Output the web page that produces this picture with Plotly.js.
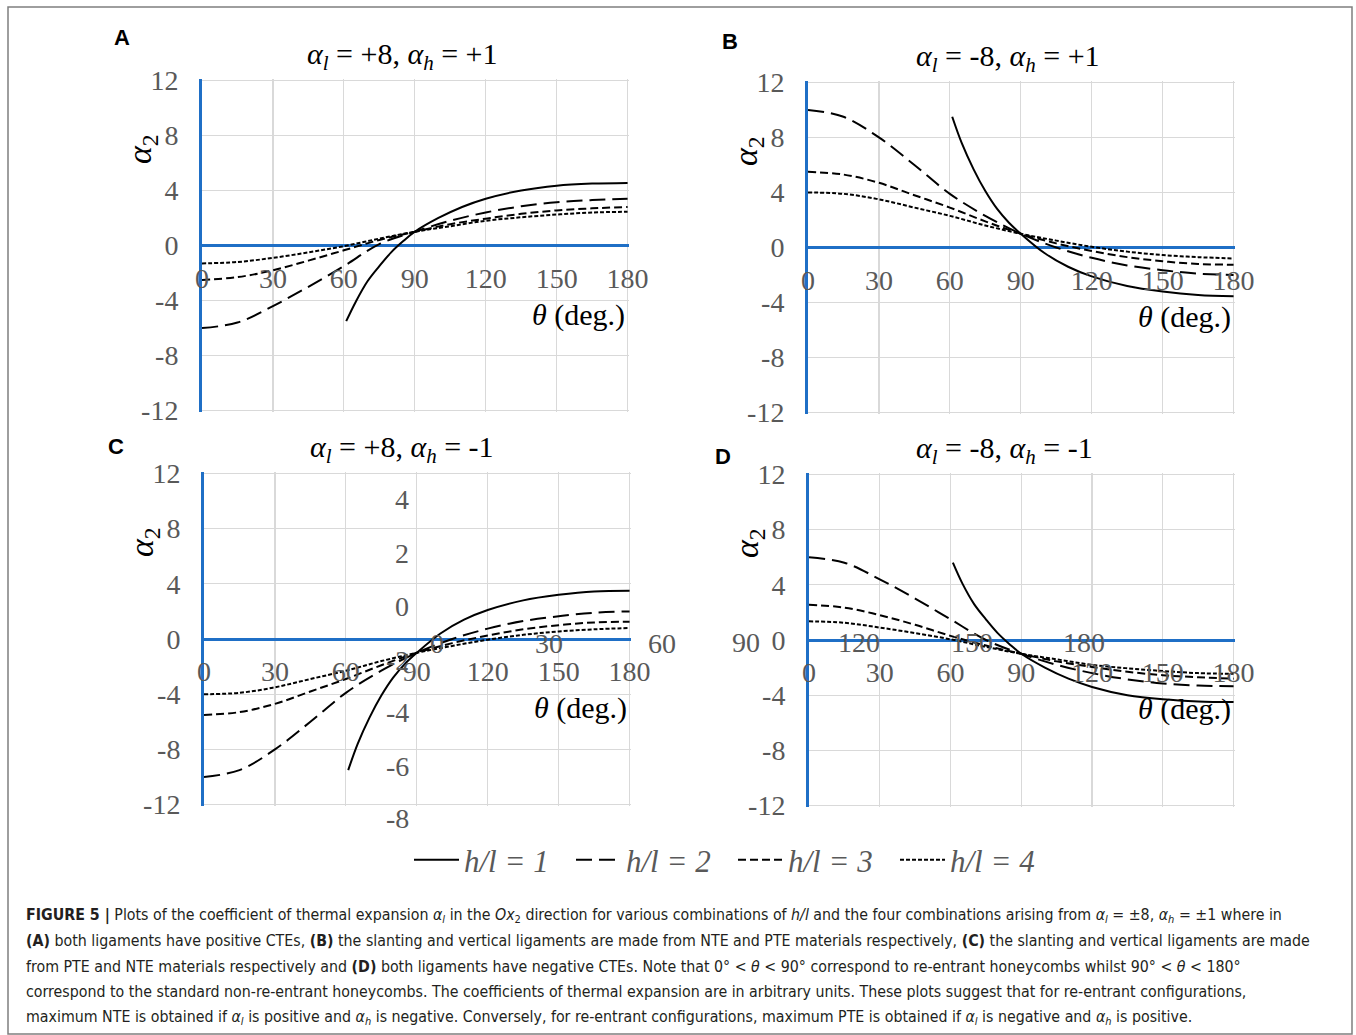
<!DOCTYPE html>
<html>
<head>
<meta charset="utf-8">
<script src="https://cdn.plot.ly/plotly-3.0.1.min.js"></script>
<style>html,body{margin:0;padding:0;background:#fff;}#chart{width:1356px;height:1035px;}</style>
</head>
<body>
<div id="chart"></div>
<script>
// ---------- data ----------
const thetaGrid = [0, 15, 30, 45, 60, 75, 90, 105, 120, 135, 150, 165, 180];
const thetaH1 = [61, 65, 70, 75, 80, 85, 90, 100, 110, 120, 135, 150, 165, 180];

// Panel A: alpha_l = +8, alpha_h = +1
const A_h1 = [-5.5, -4.1, -2.6, -1.5, -0.5, 0.3, 1.0, 2.0, 2.8, 3.4, 4.0, 4.35, 4.5, 4.55];
const A_h2 = [-6.0, -5.6, -4.4, -3.0, -1.5, 0.1, 1.0, 1.8, 2.4, 2.85, 3.15, 3.3, 3.4];
const A_h3 = [-2.5, -2.3, -1.8, -1.1, -0.35, 0.4, 1.0, 1.55, 1.95, 2.3, 2.55, 2.7, 2.8];
const A_h4 = [-1.3, -1.2, -0.9, -0.5, -0.05, 0.5, 1.0, 1.4, 1.8, 2.05, 2.25, 2.4, 2.45];
// Panel B: alpha_l = -8, alpha_h = +1
const B_h1 = [9.5, 7.6, 5.7, 4.1, 2.8, 1.8, 1.0, -0.4, -1.4, -2.1, -2.8, -3.2, -3.45, -3.55];
const B_h2 = [10.0, 9.5, 8.0, 6.0, 3.9, 2.3, 1.0, 0.0, -0.75, -1.3, -1.65, -1.9, -2.0];
const B_h3 = [5.5, 5.3, 4.7, 3.8, 2.9, 1.9, 1.0, 0.3, -0.25, -0.7, -1.0, -1.2, -1.25];
const B_h4 = [4.0, 3.9, 3.5, 2.9, 2.3, 1.6, 1.0, 0.5, 0.05, -0.3, -0.55, -0.7, -0.8];
// Panel C: alpha_l = +8, alpha_h = -1
const C_h1 = [-9.5, -7.6, -5.7, -4.1, -2.8, -1.8, -1.0, 0.4, 1.4, 2.1, 2.8, 3.2, 3.45, 3.5];
const C_h2 = [-10.0, -9.5, -8.0, -6.0, -3.9, -2.3, -1.0, 0.0, 0.75, 1.3, 1.65, 1.9, 2.0];
const C_h3 = [-5.5, -5.3, -4.7, -3.8, -2.9, -1.9, -1.0, -0.3, 0.25, 0.7, 1.0, 1.2, 1.25];
const C_h4 = [-4.0, -3.9, -3.5, -2.9, -2.3, -1.6, -1.0, -0.5, -0.05, 0.3, 0.55, 0.7, 0.8];
// Panel D: alpha_l = -8, alpha_h = -1
const D_h1 = [5.6, 4.1, 2.6, 1.5, 0.5, -0.3, -1.0, -2.0, -2.8, -3.4, -4.0, -4.3, -4.45, -4.5];
const D_h2 = [6.0, 5.6, 4.4, 3.0, 1.5, 0.0, -1.0, -1.8, -2.4, -2.85, -3.15, -3.3, -3.35];
const D_h3 = [2.55, 2.35, 1.8, 1.1, 0.3, -0.4, -1.0, -1.55, -1.95, -2.3, -2.55, -2.7, -2.8];
const D_h4 = [1.35, 1.25, 0.9, 0.5, 0.05, -0.5, -1.0, -1.4, -1.8, -2.05, -2.25, -2.4, -2.45];

const seriesNames = ['h/l = 1', 'h/l = 2', 'h/l = 3', 'h/l = 4'];
const xTickVals = [0, 30, 60, 90, 120, 150, 180];
const xTickText = ['0', '30', '60', '90', '120', '150', '180'];
const yTickVals = [-12, -8, -4, 0, 4, 8, 12];
const yTickText = ['-12', '-8', '-4', '0', '4', '8', '12'];

const panelLetters = ['A', 'B', 'C', 'D'];
const panelTitles = [
  '<i>α</i><sub><i>l</i></sub> = +8, <i>α</i><sub><i>h</i></sub> = +1',
  '<i>α</i><sub><i>l</i></sub> = -8, <i>α</i><sub><i>h</i></sub> = +1',
  '<i>α</i><sub><i>l</i></sub> = +8, <i>α</i><sub><i>h</i></sub> = -1',
  '<i>α</i><sub><i>l</i></sub> = -8, <i>α</i><sub><i>h</i></sub> = -1'
];
// stray labels visible in the reference (panels C and D)
const strayC_yText = ['4', '2', '0', '-2', '-4', '-6', '-8'];
const strayC_xText = ['0', '30', '60'];
const strayD_xText = ['90', '120', '150', '180'];

const captionLines = [
  '<b>FIGURE 5 |</b> Plots of the coefficient of thermal expansion <i>α<sub>l</sub></i> in the <i>Ox</i><sub>2</sub> direction for various combinations of <i>h/l</i> and the four combinations arising from <i>α<sub>l</sub></i> = ±8, <i>α<sub>h</sub></i> = ±1 where in',
  '<b>(A)</b> both ligaments have positive CTEs, <b>(B)</b> the slanting and vertical ligaments are made from NTE and PTE materials respectively, <b>(C)</b> the slanting and vertical ligaments are made',
  'from PTE and NTE materials respectively and <b>(D)</b> both ligaments have negative CTEs. Note that 0° &lt; <i>θ</i> &lt; 90° correspond to re-entrant honeycombs whilst 90° &lt; <i>θ</i> &lt; 180°',
  'correspond to the standard non-re-entrant honeycombs. The coefficients of thermal expansion are in arbitrary units. These plots suggest that for re-entrant configurations,',
  'maximum NTE is obtained if <i>α<sub>l</sub></i> is positive and <i>α<sub>h</sub></i> is negative. Conversely, for re-entrant configurations, maximum PTE is obtained if <i>α<sub>l</sub></i> is negative and <i>α<sub>h</sub></i> is positive.'
];

// ---------- layout helpers ----------
const W = 1356, H = 1035;
const px = x => x / W;
const py = y => 1 - y / H;
const BLUE = '#1f6fc6';
const GRID = '#d9d9d9';
const TICKGRAY = '#595959';
const SERIF = 'Liberation Serif, Times New Roman, serif';
const SANS = 'Liberation Sans, Arial, sans-serif';
const NARROW = 'Liberation Sans Narrow, DejaVu Sans Condensed, Arial Narrow, sans-serif';

const panels = [
  {id: '',  xd: [202, 629], yd: [79, 412], tx: 402, data: [A_h1, A_h2, A_h3, A_h4]},
  {id: '2', xd: [808, 1235], yd: [81, 414], tx: 1008, data: [B_h1, B_h2, B_h3, B_h4]},
  {id: '3', xd: [204, 631], yd: [472, 806], tx: 402, data: [C_h1, C_h2, C_h3, C_h4]},
  {id: '4', xd: [809, 1235], yd: [473, 807], tx: 1004, data: [D_h1, D_h2, D_h3, D_h4]}
];
const dashes = ['solid', '16px,7px', '8px,4px', '4px,2px'];

const traces = [];
const layout = {
  width: W, height: H,
  margin: {l: 0, r: 0, t: 0, b: 0},
  paper_bgcolor: '#fff', plot_bgcolor: 'rgba(0,0,0,0)',
  showlegend: true,
  legend: {
    orientation: 'h', x: px(409), xanchor: 'left', y: py(860), yanchor: 'middle',
    font: {family: SERIF, size: 31, color: TICKGRAY},
    entrywidth: 102, entrywidthmode: 'pixels', itemwidth: 45,
    bgcolor: 'rgba(0,0,0,0)', tracegroupgap: 0
  },
  annotations: [],
  shapes: [{type: 'rect', xref: 'paper', yref: 'paper', x0: px(8), x1: px(1352), y0: py(1034), y1: py(7),
            line: {color: '#7f7f7f', width: 1.5}, layer: 'below'}]
};

panels.forEach((p, pi) => {
  const yDom = [py(p.yd[1]), py(p.yd[0])];
  layout['xaxis' + p.id] = {
    domain: [px(p.xd[0]), px(p.xd[1])], range: [0, 180.6],
    tickmode: 'array', tickvals: xTickVals, ticktext: xTickText,
    anchor: 'free', position: (yDom[0] + yDom[1]) / 2,
    showgrid: true, gridcolor: GRID, gridwidth: 1.2,
    zeroline: false, showline: false, ticks: '', ticklabelstandoff: 13,
    tickfont: {family: SERIF, size: 28, color: TICKGRAY}
  };
  layout['yaxis' + p.id] = {
    domain: yDom, range: [-12.1, 12.1],
    tickmode: 'array', tickvals: yTickVals, ticktext: yTickText,
    anchor: 'x' + p.id,
    showgrid: true, gridcolor: GRID, gridwidth: 1.2,
    zeroline: true, zerolinecolor: BLUE, zerolinewidth: 3,
    showline: true, linecolor: BLUE, linewidth: 3,
    ticks: '', ticklabelstandoff: 15,
    tickfont: {family: SERIF, size: 28, color: TICKGRAY}
  };
  p.data.forEach((vals, si) => {
    traces.push({
      type: 'scatter', mode: 'lines',
      x: si === 0 ? thetaH1 : thetaGrid, y: vals,
      xaxis: 'x' + p.id, yaxis: 'y' + p.id,
      name: '<i>' + seriesNames[si] + '</i>',
      showlegend: pi === 0,
      line: {color: '#000', width: 2, dash: dashes[si], shape: 'spline', smoothing: 1},
      hoverinfo: 'skip'
    });
  });
  // subplot title
  layout.annotations.push({
    xref: 'paper', yref: 'paper', x: px(p.tx), y: py(p.yd[0] - 23), xanchor: 'center', yanchor: 'middle',
    text: panelTitles[pi], showarrow: false, font: {family: SERIF, size: 30, color: '#000'}
  });
  // y title
  layout.annotations.push({
    xref: 'paper', yref: 'paper', x: px(p.xd[0] - 60), y: py(p.yd[0] + 70), xanchor: 'center', yanchor: 'middle',
    text: '<i>α</i><sub>2</sub>', textangle: -90, showarrow: false, font: {family: SERIF, size: 34, color: '#000'}
  });
  // x title
  layout.annotations.push({
    xref: 'paper', yref: 'paper', x: px(p.xd[1] - 2), y: py(p.yd[0] + 236), xanchor: 'right', yanchor: 'middle',
    text: '<i>θ</i> (deg.)', showarrow: false, font: {family: SERIF, size: 30, color: '#000'}
  });
});

// panel letters
[[122, 37], [730, 41], [116, 446], [723, 457]].forEach((pos, i) => {
  layout.annotations.push({
    xref: 'paper', yref: 'paper', x: px(pos[0]), y: py(pos[1]), xanchor: 'center', yanchor: 'middle',
    text: '<b>' + panelLetters[i] + '</b>', showarrow: false, font: {family: SANS, size: 22, color: '#000'}
  });
});

// stray labels
const strayCyPos = [500, 553, 606, 660, 712, 766, 818];
strayC_yText.forEach((t, i) => layout.annotations.push({
  xref: 'paper', yref: 'paper', x: px(411), y: py(strayCyPos[i]), xanchor: 'right', yanchor: 'middle',
  text: t, showarrow: false, font: {family: SERIF, size: 28, color: TICKGRAY}
}));
const strayCxPos = [437, 549, 662];
strayC_xText.forEach((t, i) => layout.annotations.push({
  xref: 'paper', yref: 'paper', x: px(strayCxPos[i]), y: py(643), xanchor: 'center', yanchor: 'middle',
  text: t, showarrow: false, font: {family: SERIF, size: 28, color: TICKGRAY}
}));
const strayDxPos = [746, 859, 972, 1084];
strayD_xText.forEach((t, i) => layout.annotations.push({
  xref: 'paper', yref: 'paper', x: px(strayDxPos[i]), y: py(642), xanchor: 'center', yanchor: 'middle',
  text: t, showarrow: false, font: {family: SERIF, size: 28, color: TICKGRAY}
}));

// caption
const capY = [915, 940.5, 966, 991.5, 1017];
captionLines.forEach((t, i) => layout.annotations.push({
  xref: 'paper', yref: 'paper', x: px(24), y: py(capY[i]), xanchor: 'left', yanchor: 'middle',
  text: t, showarrow: false, font: {family: NARROW, size: 15.8, color: '#231f20'}
}));

Plotly.newPlot('chart', traces, layout, {displayModeBar: false, staticPlot: true});
</script>
</body>
</html>
